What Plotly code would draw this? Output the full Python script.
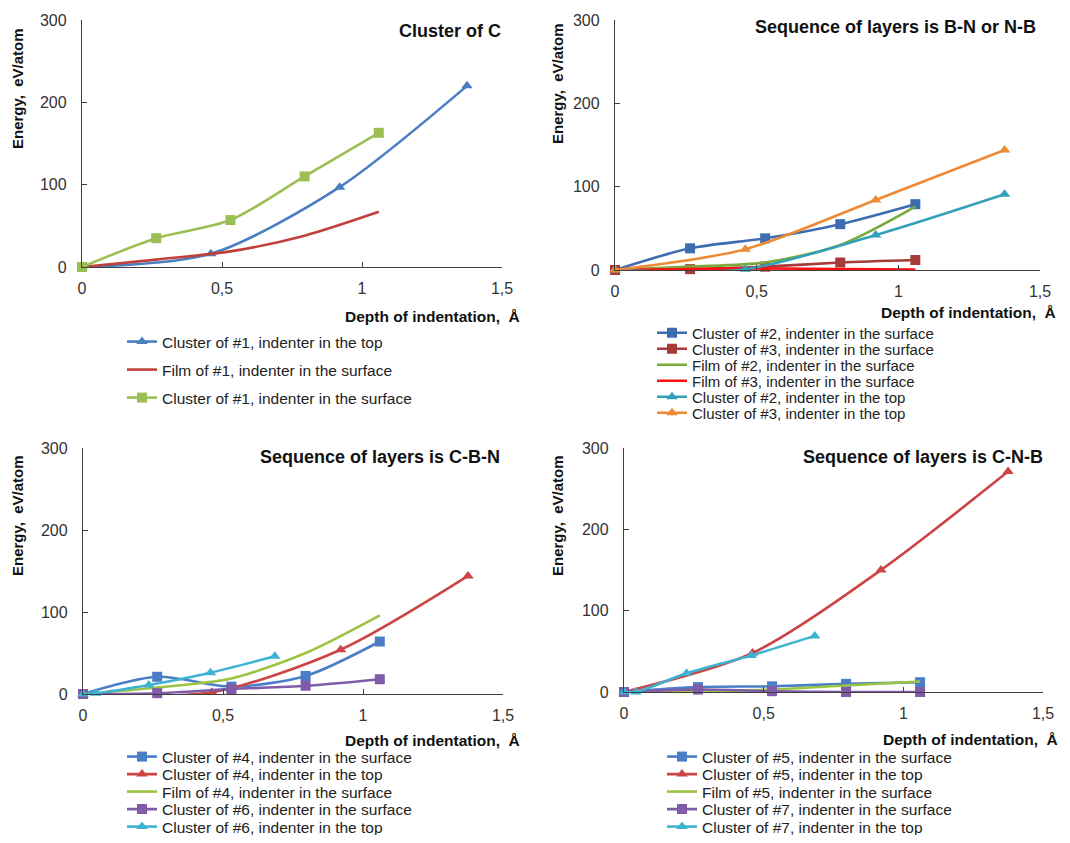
import plotly.graph_objects as go

# ---------------- data ----------------
x_surface = [0, 0.265, 0.53, 0.795, 1.06]
x_top = [0, 0.46, 0.92, 1.375]
x_top_b = [0, 0.045, 0.235, 0.455, 0.685]
x_top_c = [0, 0.042, 0.224, 0.456, 0.683]

# Panel 1: Cluster of C
p1_cluster_top = [0, 16, 97, 220]
p1_film_surface = [0, 9, 19, 38, 67]
p1_cluster_surface = [0, 35, 57, 110, 163]

# Panel 2: B-N or N-B
p2_c2_surface = [0, 26, 38, 55, 79]
p2_c3_surface = [0, 1, 4, 9, 12]
p2_f2_surface = [0, 4, 9, 30, 76]
p2_f3_surface = [0, 1, 2, 1, 0.5]
p2_c2_top = [0, 1, 42, 91]
p2_c3_top = [0, 25, 84, 144]

# Panel 3: C-B-N
p3_c4_surface = [0, 21, 9, 22, 64]
p3_c4_top = [0, 2, 54, 144]
p3_f4_surface = [0, 8, 19, 50, 96]
p3_c6_surface = [0, 1, 6, 10, 18]
p3_c6_top = [0, 1, 11, 26, 46]

# Panel 4: C-N-B
p4_c5_surface = [0, 6, 7, 10, 12]
p4_c5_top = [0, 48, 150, 271]
p4_f5_surface = [0, 1, 3, 8, 13]
p4_c7_surface = [0, 3, 1, 0, 0]
p4_c7_top = [0, 0, 23, 45, 69]

titles = ["Cluster of C", "Sequence of layers is B-N or N-B",
          "Sequence of layers is C-B-N", "Sequence of layers is C-N-B"]
x_tickvals = [0, 0.5, 1, 1.5]
x_ticktext = ["0", "0,5", "1", "1,5"]
y_tickvals = [0, 100, 200, 300]

# ---------------- layout helpers ----------------
OFF = 8  # page body margin; figure sized so the page fits the window exactly
W, H = 1070 - 2 * OFF, 843 - 2 * OFF
FONT = "Liberation Sans, Arial, sans-serif"


def px(x):
    return (x - OFF) / W


def py(y):
    return 1 - (y - OFF) / H


# panel geometry in page pixels
panels = [
    dict(x0=82, x1=502, yb=267, yt=20, title_r=503, title_y=31,
         ytitle_x=18, ytitle_y=89, xtitle_r=522, xtitle_y=316,
         leg_x=130, leg_y=342, leg_dy=28, leg_fs=15.5),
    dict(x0=615, x1=1040, yb=270, yt=20, title_r=1038, title_y=27,
         ytitle_x=557, ytitle_y=84, xtitle_r=1058, xtitle_y=312,
         leg_x=660, leg_y=333, leg_dy=16, leg_fs=15),
    dict(x0=83, x1=503, yb=694, yt=448, title_r=502, title_y=457,
         ytitle_x=18, ytitle_y=516, xtitle_r=522, xtitle_y=740,
         leg_x=130, leg_y=757, leg_dy=17.5, leg_fs=15.5),
    dict(x0=624, x1=1043, yb=692, yt=448, title_r=1045, title_y=457,
         ytitle_x=558, ytitle_y=516, xtitle_r=1060, xtitle_y=739,
         leg_x=670, leg_y=757, leg_dy=17.5, leg_fs=15.5),
]

series = [
    # panel index, name, x, y, color, symbol
    (0, "Cluster of #1, indenter in the top", x_top, p1_cluster_top, "#4A7EC0", "triangle-up"),
    (0, "Film of #1, indenter in the surface", x_surface, p1_film_surface, "#C0403C", None),
    (0, "Cluster of #1, indenter in the surface", x_surface, p1_cluster_surface, "#9BBF52", "square"),

    (1, "Cluster of #2, indenter in the surface", x_surface, p2_c2_surface, "#3D6CB0", "square"),
    (1, "Cluster of #3, indenter in the surface", x_surface, p2_c3_surface, "#A63C3A", "square"),
    (1, "Film of #2, indenter in the surface", x_surface, p2_f2_surface, "#7AAA3A", None),
    (1, "Film of #3, indenter in the surface", x_surface, p2_f3_surface, "#FF1010", None),
    (1, "Cluster of #2, indenter in the top", x_top, p2_c2_top, "#33A0BA", "triangle-up"),
    (1, "Cluster of #3, indenter in the top", x_top, p2_c3_top, "#EE8A36", "triangle-up"),

    (2, "Cluster of #4, indenter in the surface", x_surface, p3_c4_surface, "#4A7EC6", "square"),
    (2, "Cluster of #4, indenter in the top", x_top, p3_c4_top, "#CC4444", "triangle-up"),
    (2, "Film of #4, indenter in the surface", x_surface, p3_f4_surface, "#9BC444", None),
    (2, "Cluster of #6, indenter in the surface", x_surface, p3_c6_surface, "#7F5BA8", "square"),
    (2, "Cluster of #6, indenter in the top", x_top_b, p3_c6_top, "#3DB2D2", "triangle-up"),

    (3, "Cluster of #5, indenter in the surface", x_surface, p4_c5_surface, "#4A7EC6", "square"),
    (3, "Cluster of #5, indenter in the top", x_top, p4_c5_top, "#CC4444", "triangle-up"),
    (3, "Film of #5, indenter in the surface", x_surface, p4_f5_surface, "#9BC444", None),
    (3, "Cluster of #7, indenter in the surface", x_surface, p4_c7_surface, "#7F5BA8", "square"),
    (3, "Cluster of #7, indenter in the top", x_top_c, p4_c7_top, "#3DB2D2", "triangle-up"),
]

fig = go.Figure()
layout = dict(
    width=W, height=H, margin=dict(l=0, r=0, t=0, b=0, autoexpand=False),
    paper_bgcolor="white", plot_bgcolor="white",
    font=dict(family=FONT, color="#222222"),
    annotations=[],
)

for i, p in enumerate(panels):
    sfx = "" if i == 0 else str(i + 1)
    layout["xaxis" + sfx] = dict(
        domain=[px(p["x0"]), px(p["x1"])], range=[0, 1.5],
        anchor="y" + sfx, tickvals=x_tickvals, ticktext=x_ticktext,
        showline=True, linecolor="#404040", linewidth=1.3,
        ticks="inside", ticklen=5, tickcolor="#404040",
        showgrid=False, zeroline=False, ticklabelstandoff=7,
        tickfont=dict(size=16, color="#333333", family=FONT),
        fixedrange=True,
    )
    layout["yaxis" + sfx] = dict(
        domain=[py(p["yb"]), py(p["yt"])], range=[0, 300],
        anchor="x" + sfx, tickvals=y_tickvals,
        showline=True, linecolor="#404040", linewidth=1.3,
        ticks="inside", ticklen=5, tickcolor="#404040",
        showgrid=False, zeroline=False, ticklabelstandoff=11,
        tickfont=dict(size=16, color="#333333", family=FONT),
        fixedrange=True,
    )
    layout["annotations"] += [
        dict(text="<b>" + titles[i] + "</b>", xref="paper", yref="paper",
             x=px(p["title_r"]), y=py(p["title_y"]), xanchor="right", yanchor="middle",
             showarrow=False, font=dict(size=18, color="#111111", family=FONT)),
        dict(text="<b>Energy,  eV/atom</b>", xref="paper", yref="paper",
             x=px(p["ytitle_x"]), y=py(p["ytitle_y"]), xanchor="center", yanchor="middle",
             textangle=-90, showarrow=False, font=dict(size=15, color="#111111", family=FONT)),
        dict(text="<b>Depth of indentation,  Å</b>", xref="paper", yref="paper",
             x=px(p["xtitle_r"]), y=py(p["xtitle_y"]), xanchor="right", yanchor="middle",
             showarrow=False, font=dict(size=15.5, color="#111111", family=FONT)),
    ]

counters = [0, 0, 0, 0]
for n, (pi, name, xs, ys, color, sym) in enumerate(series):
    p = panels[pi]
    sfx = "" if pi == 0 else str(pi + 1)
    leg_id = "legend" if n == 0 else "legend" + str(n + 1)
    k = counters[pi]
    counters[pi] += 1
    layout[leg_id] = dict(
        x=px(p["leg_x"] - 8), y=py(p["leg_y"] + k * p["leg_dy"]),
        xanchor="left", yanchor="middle", bgcolor="rgba(0,0,0,0)",
        borderwidth=0, font=dict(size=p["leg_fs"], color="#222222", family=FONT),
        itemwidth=30,
    )
    fig.add_trace(go.Scatter(
        x=xs, y=ys, name=name, xaxis="x" + sfx, yaxis="y" + sfx,
        mode="lines+markers" if sym else "lines",
        line=dict(color=color, width=2.6, shape="spline", smoothing=0.8),
        marker=dict(symbol=sym or "circle", size=10, color=color),
        cliponaxis=False, legend=leg_id, showlegend=True,
    ))

fig.update_layout(**layout)
fig.write_html("out.html")
